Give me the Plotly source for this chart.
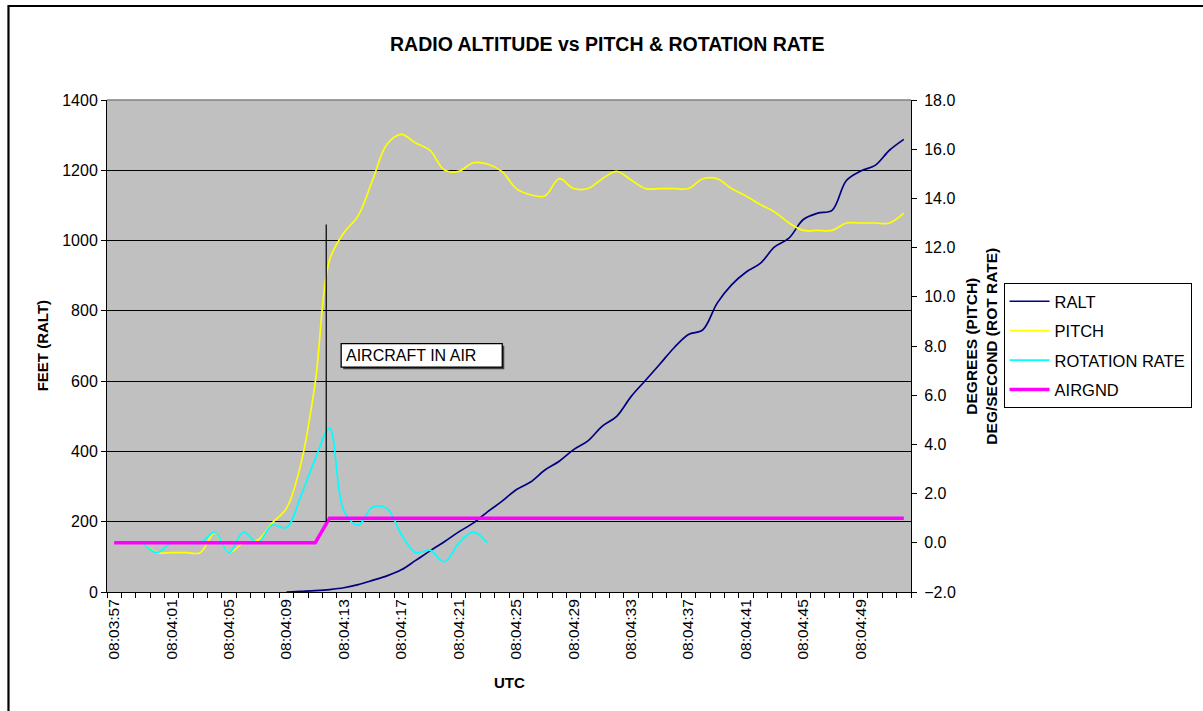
import plotly.graph_objects as go

# ---- data ----
TIMES = [
    "08:03:57", "08:03:58", "08:03:59", "08:04:00", "08:04:01", "08:04:02", "08:04:03", "08:04:04",
    "08:04:05", "08:04:06", "08:04:07", "08:04:08", "08:04:09", "08:04:10", "08:04:11", "08:04:12",
    "08:04:13", "08:04:14", "08:04:15", "08:04:16", "08:04:17", "08:04:18", "08:04:19", "08:04:20",
    "08:04:21", "08:04:22", "08:04:23", "08:04:24", "08:04:25", "08:04:26", "08:04:27", "08:04:28",
    "08:04:29", "08:04:30", "08:04:31", "08:04:32", "08:04:33", "08:04:34", "08:04:35", "08:04:36",
    "08:04:37", "08:04:38", "08:04:39", "08:04:40", "08:04:41", "08:04:42", "08:04:43", "08:04:44",
    "08:04:45", "08:04:46", "08:04:47", "08:04:48", "08:04:49", "08:04:50", "08:04:51", "08:04:52",
]

RALT = [None] * 12 + [
    0, 2, 4, 7, 12, 21, 33, 46, 63, 90,
    117, 143, 171, 196, 228, 258, 291, 313, 347, 372,
    405, 430, 472, 500, 556, 602, 648, 695, 733, 746,
    822, 874, 910, 935, 982, 1007, 1060, 1078, 1086, 1171,
    1198, 1214, 1257, 1288,
]

PITCH = [
    None, None, 0.0, -0.4, -0.4, -0.4, -0.4, 0.4, -0.4, 0.0,
    0.1, 0.8, 1.4, 3.2, 6.5, 11.5, 12.6, 13.3, 14.75, 16.2,
    16.6, 16.25, 15.95, 15.15, 15.1, 15.45, 15.4, 15.1, 14.4, 14.15,
    14.1, 14.8, 14.4, 14.4, 14.8, 15.1, 14.75, 14.4, 14.4, 14.4,
    14.4, 14.8, 14.8, 14.4, 14.1, 13.75, 13.45, 13.0, 12.7, 12.7,
    12.7, 13.0, 13.0, 13.0, 13.0, 13.4,
]

ROT_RATE = [
    None, None, 0.0, -0.4, 0.0, 0.0, 0.0, 0.43, -0.4, 0.43,
    0.0, 0.72, 0.62, 1.9, 3.4, 4.65, 1.3, 0.72, 1.45, 1.4,
    0.35, -0.4, -0.3, -0.77, -0.02, 0.43, 0.0,
] + [None] * 29

AIRGND = [0] * 15 + [1] * 41

TICK_EVERY = 4
LIFTOFF_MARK = 14.77          # position of the "aircraft in air" marker line (in seconds index)

X = list(range(len(TIMES)))
FONT = "Arial, 'Liberation Sans', Helvetica, sans-serif"

fig = go.Figure()
fig.add_trace(go.Scatter(x=X, y=RALT, name="RALT", mode="lines", legendgroup="a",
                         line=dict(color="#000080", width=1.7, shape="spline"), yaxis="y"))
fig.add_trace(go.Scatter(x=X, y=PITCH, name="PITCH", mode="lines", legendgroup="b",
                         line=dict(color="#FFFF00", width=1.7, shape="spline"), yaxis="y2"))
fig.add_trace(go.Scatter(x=X, y=ROT_RATE, name="ROTATION RATE", mode="lines", legendgroup="c",
                         line=dict(color="#00FFFF", width=1.7, shape="spline"), yaxis="y2"))
fig.add_trace(go.Scatter(x=X, y=AIRGND, name="AIRGND", mode="lines", legendgroup="d",
                         line=dict(color="#FF00FF", width=3.5), yaxis="y2"))

W, H = 1203, 711
L, R, T, B = 107, 288, 100, 119
PW, PH = W - L - R, H - T - B


def px(xp):
    return (xp - L) / PW


def py(yp):
    return (H - B - yp) / PH


fig.update_layout(
    width=W, height=H,
    margin=dict(l=L, r=R, t=T, b=B, pad=0),
    paper_bgcolor="white",
    plot_bgcolor="#C0C0C0",
    font=dict(family=FONT, size=16, color="black"),
    showlegend=True,
    legend=dict(x=px(1008), y=py(283), xanchor="left", yanchor="top",
                bgcolor="white", bordercolor="black", borderwidth=1,
                font=dict(size=16.5), tracegroupgap=5, itemwidth=40),
    xaxis=dict(
        range=[-0.5, len(TIMES) - 0.5],
        tickmode="array", tickvals=X[::TICK_EVERY], ticktext=TIMES[::TICK_EVERY],
        tickangle=-90, ticks="", showgrid=False, zeroline=False,
        showline=True, linecolor="black", linewidth=1,
        tickfont=dict(size=15.5),
        minor=dict(ticks="outside", ticklen=5, tickcolor="black", tickwidth=1,
                   tick0=-0.5, dtick=1, showgrid=False),
    ),
    yaxis=dict(
        range=[0, 1400], dtick=200, tickformat="d",
        ticks="outside", ticklen=5, tickcolor="black",
        showline=True, linecolor="black", linewidth=1,
        showgrid=True, gridcolor="black", gridwidth=1, zeroline=False,
        tickfont=dict(size=16),
    ),
    yaxis2=dict(
        overlaying="y", side="right",
        range=[-2, 18], dtick=2, tickformat=".1f",
        ticks="outside", ticklen=5, tickcolor="black",
        showline=True, linecolor="black", linewidth=1,
        showgrid=False, zeroline=False, ticklabelstandoff=4,
        tickfont=dict(size=16),
    ),
)

# outer chart frame
fig.add_shape(type="rect", xref="paper", yref="paper",
              x0=px(8), x1=px(1300), y0=py(800), y1=py(6),
              line=dict(color="black", width=2.2), fillcolor="rgba(0,0,0,0)", layer="above")
# plot-area top border
fig.add_shape(type="line", xref="paper", yref="paper", x0=0, x1=1, y0=1, y1=1,
              line=dict(color="#808080", width=1.5), layer="above")

# lift-off marker line and label box
fig.add_shape(type="line", xref="x", yref="y", x0=LIFTOFF_MARK, x1=LIFTOFF_MARK, y0=200, y1=1046,
              line=dict(color="black", width=1.2), layer="above")
fig.add_shape(type="rect", xref="x", yref="y", x0=15.95, x1=27.17, y0=634, y1=701,
              line=dict(width=0), fillcolor="#404040", layer="above")
fig.add_shape(type="rect", xref="x", yref="y", x0=15.81, x1=27.03, y0=640, y1=707,
              line=dict(color="black", width=1.3), fillcolor="white", layer="above")
fig.add_annotation(x=16.0, y=673.5, xref="x", yref="y", text="AIRCRAFT IN AIR",
                   showarrow=False, xanchor="left", yanchor="middle",
                   font=dict(size=16, color="black"))

# titles
fig.add_annotation(x=px(609), y=py(44), xref="paper", yref="paper",
                   text="<b>RADIO ALTITUDE vs PITCH & ROTATION RATE</b>",
                   showarrow=False, xanchor="center", yanchor="middle",
                   font=dict(size=19.5))
fig.add_annotation(x=px(42), y=0.5, xref="paper", yref="paper", text="<b>FEET (RALT)</b>",
                   showarrow=False, textangle=-90, xanchor="center", yanchor="middle",
                   font=dict(size=15))
fig.add_annotation(x=px(985), y=0.5, xref="paper", yref="paper",
                   text="<b>DEGREES (PITCH)<br>DEG/SECOND (ROT RATE)</b>",
                   showarrow=False, textangle=-90, xanchor="center", yanchor="middle",
                   font=dict(size=15.5))
fig.add_annotation(x=0.5, y=py(682), xref="paper", yref="paper", text="<b>UTC</b>",
                   showarrow=False, xanchor="center", yanchor="middle",
                   font=dict(size=15))

fig.write_html("out.html", config={"displayModeBar": False},
               post_script="document.body.style.margin='0px';document.body.style.overflow='hidden';")
